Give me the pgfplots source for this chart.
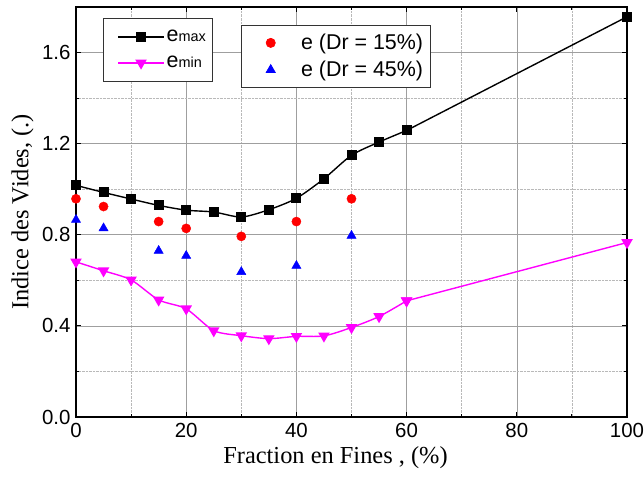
\documentclass[border=0pt]{standalone}
\usepackage{pgfplots}
\pgfplotsset{compat=1.18}
\usepackage{fontspec}
\setmainfont{Liberation Serif}
\newfontfamily\arial{Liberation Sans}
\definecolor{mag}{RGB}{255,0,255}
\begin{document}
\begin{tikzpicture}
\pgfplotsset{
  common/.style={
    width=551bp, height=410bp, scale only axis,
    xmin=0, xmax=100, ymin=0, ymax=1.8,
  },
  legstyle/.style={
    legend cell align=left,
    legend style={font=\arial\fontsize{21.5}{22}\selectfont, draw=black!80, line width=0.7pt, fill=white,
      inner ysep=7bp, row sep=6bp},
  },
  scatleg/.style={legend image code/.code={\path (-24bp,0bp) (28bp,0bp); \draw[mark repeat=2,mark phase=2,##1] plot coordinates {(0bp,0bp) (0bp,0bp) (0bp,0bp)};}},
}
\begin{axis}[common, legstyle,
  axis line style={line width=1.3pt},
  xtick={0,20,40,60,80,100},
  ytick={0,0.4,0.8,1.2,1.6},
  minor x tick num=1, minor y tick num=1,
  tick align=inside,
  major tick length=5bp, minor tick length=3bp,
  tick style={black, line width=0.9pt},
  grid=both,
  major grid style={gray!75, line width=0.6pt},
  minor grid style={gray!55, densely dotted, line width=0.6pt},
  /pgf/number format/assume math mode=true,
  ticklabel style={font=\arial\fontsize{20.5}{20.5}\selectfont},
  yticklabel style={/pgf/number format/fixed, /pgf/number format/fixed zerofill, /pgf/number format/precision=1, xshift=-2bp},
  xticklabel style={yshift=-3bp},
  xlabel={Fraction en Fines , (\%)},
  ylabel={Indice des Vides, (.)},
  label style={font=\fontsize{24.5}{26}\selectfont},
  x label style={at={(axis description cs:0.471,-0.098)}, anchor=center},
  y label style={at={(axis description cs:-0.097,0.5)}, anchor=center},
  legend style={at={(rel axis cs:0.049,0.973)}, anchor=north west, inner xsep=4bp, inner ysep=10bp, row sep=9bp},
  legend image code/.code={\path (-10bp,0bp); \draw[mark repeat=2,mark phase=2] plot coordinates {(0bp,0bp) (23bp,0bp) (46bp,0bp)};},
]
\coordinate (SW) at (rel axis cs:0,0);
\coordinate (NE) at (rel axis cs:1,1);
\addplot[black, line width=1.4pt, smooth, tension=0.45, mark=square*, mark size=4.3bp, mark options={solid}]
 coordinates {(0,1.017) (5,0.986) (10,0.957) (15,0.929) (20,0.908) (25,0.900) (30,0.878) (35,0.910) (40,0.960) (45,1.046) (50,1.149) (55,1.207) (60,1.258)};
\addlegendentry{e{\fontsize{14.5}{14.5}\selectfont max}}
\addplot[mag, line width=1.4pt, smooth, tension=0.45, mark=triangle*, mark size=5.3bp, mark options={solid, rotate=180}]
 coordinates {(0,0.681) (5,0.642) (10,0.602) (15,0.514) (20,0.475) (25,0.379) (30,0.357) (35,0.344) (40,0.354) (45,0.356) (50,0.393) (55,0.441) (60,0.510)};
\addlegendentry{e{\fontsize{14.5}{14.5}\selectfont min}}
\addplot[black, line width=1.4pt, mark=square*, mark size=4.3bp, mark options={solid}, forget plot]
 coordinates {(60,1.258) (100,1.757)};
\addplot[mag, line width=1.4pt, mark=triangle*, mark size=5.3bp, mark options={solid, rotate=180}, forget plot]
 coordinates {(60,0.510) (100,0.766)};
\end{axis}
\begin{axis}[common, legstyle, hide axis,
  legend style={at={(rel axis cs:0.2995,0.956)}, anchor=north west, inner xsep=5bp},
]
\addplot[only marks, red, mark=*, mark size=4.6bp, scatleg]
 coordinates {(0,0.958) (5,0.924) (15,0.858) (20,0.828) (30,0.793) (40,0.858) (50,0.958)};
\addlegendentry{e (Dr = 15\%)}
\addplot[only marks, blue, mark=triangle*, mark size=5.3bp, scatleg]
 coordinates {(0,0.866) (5,0.829) (15,0.730) (20,0.708) (30,0.637) (40,0.664) (50,0.796)};
\addlegendentry{e (Dr = 45\%)}
\end{axis}
\pgfresetboundingbox
\path ([shift={(-76bp,-60bp)}]SW) rectangle ([shift={(17bp,7bp)}]NE);
\end{tikzpicture}
\end{document}
